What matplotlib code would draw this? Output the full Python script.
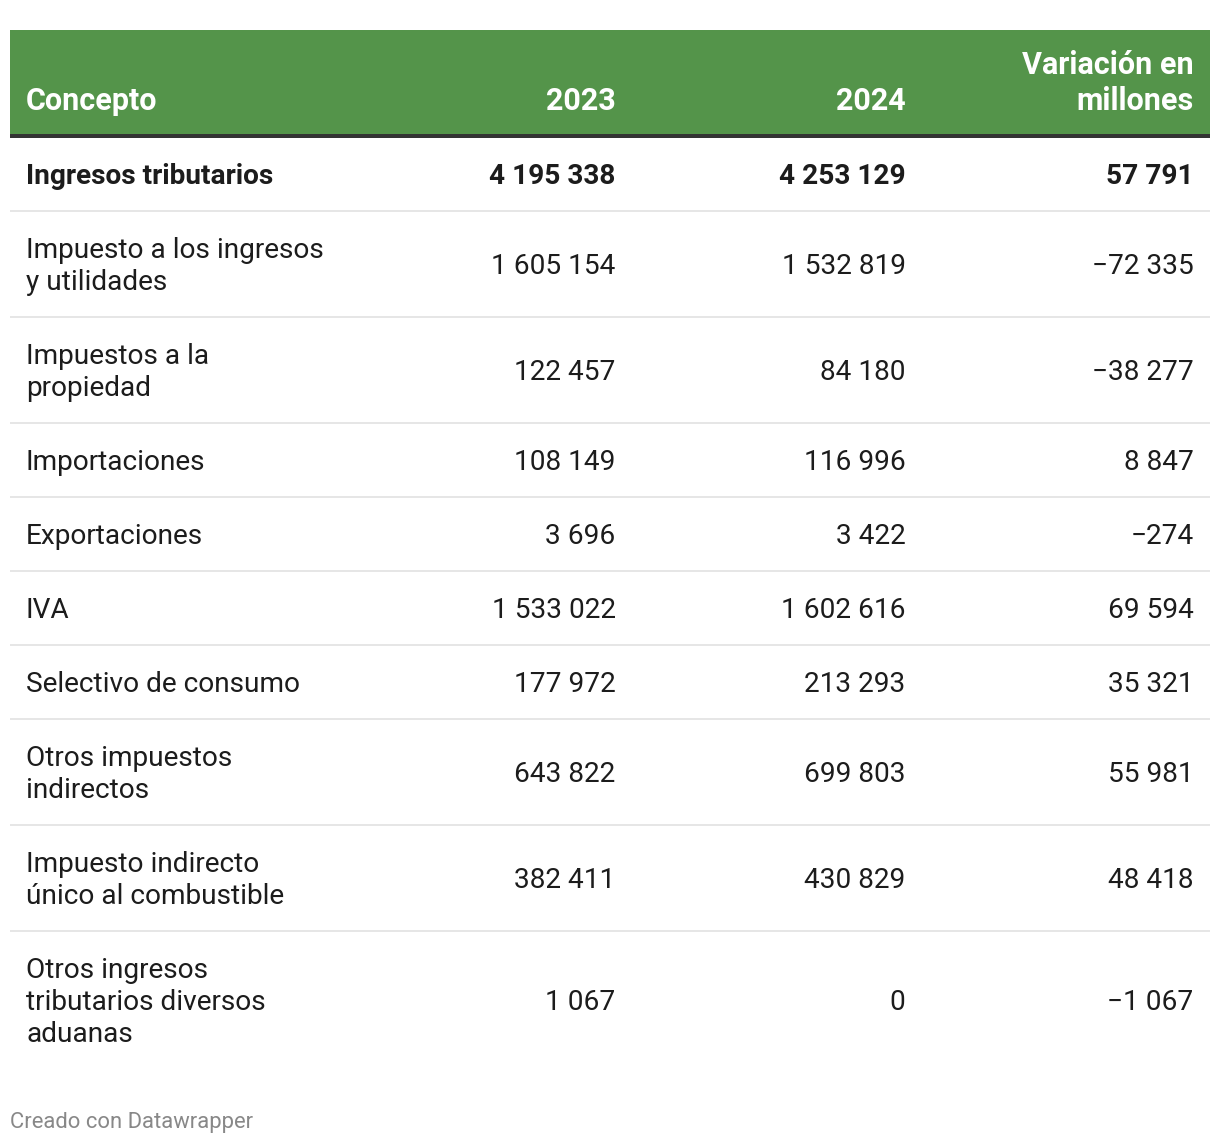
import matplotlib
matplotlib.use("Agg")
from matplotlib import pyplot as plt
from matplotlib.patches import Rectangle

plt.rcParams['font.family'] = ['Roboto', 'DejaVu Sans']

# table data
columns = ["Concepto", "2023", "2024", "Variación en\nmillones"]
concepts = [
    "Ingresos tributarios",
    "Impuesto a los ingresos\ny utilidades",
    "Impuestos a la\npropiedad",
    "Importaciones",
    "Exportaciones",
    "IVA",
    "Selectivo de consumo",
    "Otros impuestos\nindirectos",
    "Impuesto indirecto\núnico al combustible",
    "Otros ingresos\ntributarios diversos\naduanas",
]
values_2023 = [4195338, 1605154, 122457, 108149, 3696, 1533022, 177972, 643822, 382411, 1067]
values_2024 = [4253129, 1532819, 84180, 116996, 3422, 1602616, 213293, 699803, 430829, 0]
variation = [57791, -72335, -38277, 8847, -274, 69594, 35321, 55981, 48418, -1067]
bold_rows = [0]
footer = "Creado con Datawrapper"

GREEN = "#54944a"
TEXT = "#1c1c1c"


def fmt(v):
    s = "{:,}".format(abs(v)).replace(",", " ")
    return ("\u2212" + s) if v < 0 else s


W, H = 1220, 1144
fig = plt.figure(figsize=(W / 100, H / 100), dpi=100)
ax = fig.add_axes([0, 0, 1, 1])
ax.set_xlim(0, W)
ax.set_ylim(H, 0)
ax.axis("off")

left, right = 10, 1210
col_x = [26, 615.5, 905.5, 1193.5]
col_ha = ["left", "right", "right", "right"]

# header
ax.add_patch(Rectangle((left, 30), right - left, 104, color=GREEN, lw=0))
ax.add_patch(Rectangle((left, 134), right - left, 4, color="#333333", lw=0))
for x, ha, name in zip(col_x, col_ha, columns):
    lines = name.split("\n")
    for i, ln in enumerate(reversed(lines)):
        ax.text(x, 110 - 36 * i, ln, ha=ha, va="baseline", color="white",
                fontsize=22, fontweight="bold")

# body
y = 137
lh = 32
for r, name in enumerate(concepts):
    lines = name.split("\n")
    n = len(lines)
    h = 42 + lh * n
    center = y + h / 2
    weight = "bold" if r in bold_rows else "normal"
    for i, ln in enumerate(lines):
        cy = center + (i - (n - 1) / 2) * lh
        ax.text(col_x[0], cy + 10, ln, ha="left", va="baseline", color=TEXT,
                fontsize=20.2, fontweight=weight)
    for x, v in zip(col_x[1:], [values_2023[r], values_2024[r], variation[r]]):
        ax.text(x, center + 10, fmt(v), ha="right", va="baseline", color=TEXT,
                fontsize=20.2, fontweight=weight)
    y += h
    if r < len(concepts) - 1:
        ax.add_patch(Rectangle((left, y - 1), right - left, 2, color="#e6e6e6", lw=0))

ax.text(10, 1128, footer, ha="left", va="baseline", color="#888888", fontsize=15.8)

fig.savefig("out.png", dpi=100)
